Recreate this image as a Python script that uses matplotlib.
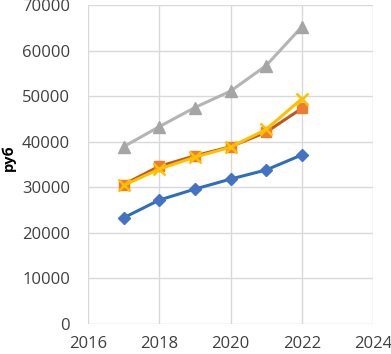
import matplotlib.pyplot as plt
import numpy as np

years = [2017, 2018, 2019, 2020, 2021, 2022]
blue_vals = [23300, 27200, 29600, 31800, 33800, 37100]
orange_vals = [30600, 34600, 36900, 38900, 42100, 47300]
gray_vals = [38900, 43300, 47500, 51100, 56700, 65200]
yellow_vals = [30400, 34000, 36600, 38800, 42700, 49400]

plt.rcParams['font.family'] = ['Open Sans', 'DejaVu Sans']

fig = plt.figure(figsize=(3.91, 3.54), dpi=100)
ax = fig.add_axes([88 / 391, 30 / 354, 285 / 391, 319 / 354])

ax.plot(years, blue_vals, color='#2F6FB9', lw=2.2, marker='D', ms=6,
        mfc='#4472C4', mec='#4472C4', zorder=3)
ax.plot(years, gray_vals, color='#B4B4B4', lw=2.2, marker='^', ms=8,
        mfc='#A5A5A5', mec='#A5A5A5', zorder=3)
ax.plot(years, orange_vals, color='#C0581B', lw=2.2, marker='s', ms=7,
        mfc='#ED7D31', mec='#ED7D31', zorder=3)
ax.plot(years, yellow_vals, color='#FFC000', lw=2.2, marker='x', ms=8,
        mew=1.8, mec='#FFC000', zorder=4)

ax.set_xlim(2016, 2024)
ax.set_ylim(0, 70000)
ax.set_xticks(np.arange(2016, 2025, 2))
ax.set_yticks(np.arange(0, 70001, 10000))
ax.grid(True, color='#D9D9D9', lw=1)
ax.set_axisbelow(True)
for s in ax.spines.values():
    s.set_visible(False)
ax.tick_params(length=0, labelsize=12, colors='#404040')
ax.tick_params(axis='y', pad=13)
ax.tick_params(axis='x', pad=9)
ax.set_ylabel('руб', fontsize=10.5, fontweight='bold')
ax.yaxis.set_label_coords(-72 / 285, 0.52)

fig.savefig('out.png', dpi=100)
